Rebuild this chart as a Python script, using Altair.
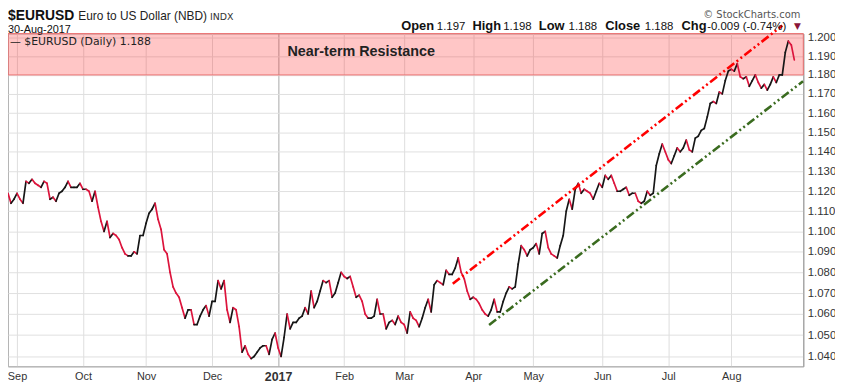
import json
import altair as alt
import pandas as pd

# ---------------- data (daily closes, trading days from 29-Aug-2016) ----------------
aug16 = [1.119, 1.114, 1.116]
sep16 = [1.119, 1.116, 1.114, 1.125, 1.124, 1.126, 1.124, 1.123, 1.122, 1.125,
         1.124, 1.116, 1.117, 1.115, 1.119, 1.120, 1.122, 1.125, 1.122, 1.122,
         1.122, 1.124]
oct16 = [1.121, 1.121, 1.120, 1.115, 1.120, 1.112, 1.105, 1.100, 1.105, 1.097,
         1.099, 1.098, 1.096, 1.092, 1.089, 1.088, 1.088, 1.090, 1.089, 1.098,
         1.098]
nov16 = [1.104, 1.109, 1.111, 1.114, 1.106, 1.101, 1.091, 1.089, 1.080, 1.073,
         1.070, 1.068, 1.063, 1.058, 1.062, 1.062, 1.055, 1.055, 1.059, 1.062,
         1.064, 1.059]
dec16 = [1.066, 1.066, 1.076, 1.072, 1.076, 1.062, 1.056, 1.063, 1.062, 1.054,
         1.042, 1.045, 1.041, 1.039, 1.040, 1.042, 1.044, 1.045, 1.045, 1.041,
         1.048, 1.051]
jan17 = [1.044, 1.040, 1.049, 1.060, 1.053, 1.056, 1.056, 1.058, 1.059, 1.063,
         1.060, 1.071, 1.063, 1.066, 1.071, 1.076, 1.075, 1.076, 1.068, 1.070,
         1.075, 1.080]
feb17 = [1.078, 1.077, 1.078, 1.073, 1.068, 1.069, 1.066, 1.060, 1.058, 1.058,
         1.059, 1.067, 1.060, 1.060, 1.053, 1.056, 1.057, 1.055, 1.059, 1.056]
mar17 = [1.055, 1.051, 1.061, 1.058, 1.057, 1.054, 1.058, 1.063, 1.067, 1.061,
         1.074, 1.076, 1.075, 1.074, 1.081, 1.079, 1.079, 1.082, 1.087, 1.080,
         1.077, 1.071, 1.067]
apr17 = [1.068, 1.067, 1.065, 1.062, 1.060, 1.059, 1.062, 1.067, 1.061, 1.061,
         1.066, 1.070, 1.073, 1.072, 1.073, 1.084, 1.093, 1.091, 1.088, 1.091]
may17 = [1.092, 1.094, 1.089, 1.099, 1.100, 1.092, 1.089, 1.088, 1.087, 1.093,
         1.098, 1.110, 1.116, 1.111, 1.121, 1.124, 1.119, 1.121, 1.120, 1.119,
         1.116, 1.120, 1.124]
jun17 = [1.122, 1.128, 1.126, 1.128, 1.124, 1.120, 1.120, 1.121, 1.122, 1.118,
         1.119, 1.119, 1.115, 1.114, 1.115, 1.120, 1.118, 1.119, 1.133, 1.139,
         1.144, 1.140]
jul17 = [1.136, 1.134, 1.138, 1.142, 1.140, 1.142, 1.146, 1.141, 1.140, 1.147,
         1.148, 1.151, 1.152, 1.158, 1.165, 1.166, 1.165, 1.171, 1.170, 1.177,
         1.182]
aug17 = [1.183, 1.182, 1.186, 1.179, 1.178, 1.179, 1.174, 1.177, 1.180, 1.176,
         1.173, 1.175, 1.172, 1.175, 1.179, 1.176, 1.180, 1.180, 1.192, 1.198,
         1.196, 1.188]

month_idx = [3, 25, 46, 68, 90, 112, 132, 155, 175, 198, 220, 241]
month_lab = ["Sep", "Oct", "Nov", "Dec", "2017", "Feb", "Mar", "Apr", "May",
             "Jun", "Jul", "Aug"]
y_ticks = [1.040, 1.050, 1.060, 1.070, 1.080, 1.090, 1.100, 1.110, 1.120,
           1.130, 1.140, 1.150, 1.160, 1.170, 1.180, 1.190, 1.200]

red_x = [148.2, 258.0]
red_y = [1.0745, 1.2064]
green_x = [160.3, 264.9]
green_y = [1.0548, 1.1767]

band_lo, band_hi = 1.180, 1.2021
x_domain = [0, 265]
y_domain = [1.0354, 1.2021]

quote_labels = ["Open", "High", "Low", "Close", "Chg"]
quote_values = ["1.197", "1.198", "1.188", "1.188", "-0.009 (-0.74%)"]
last_close = "1.188"

# ---------------- build ----------------
closes = (aug16 + sep16 + oct16 + nov16 + dec16 + jan17 + feb17 + mar17 +
          apr17 + may17 + jun17 + jul17 + aug17)
n = len(closes)
seg = pd.DataFrame({
    "i": list(range(n - 1)),
    "i2": list(range(1, n)),
    "v": closes[:-1],
    "v2": closes[1:],
})
seg["dir"] = ["up" if b >= a else "down" for a, b in zip(closes[:-1], closes[1:])]

xs = alt.Scale(domain=x_domain, nice=False, zero=False)
ys = alt.Scale(type="log", domain=y_domain, nice=False)

SANS = "Liberation Sans, Arial"
VERD = "DejaVu Sans, Verdana"

label_expr = "%s[indexof(%s, datum.value)]" % (json.dumps(month_lab), json.dumps(month_idx))
cond_2017 = "datum.value == 90"

xaxis = alt.Axis(
    values=month_idx, labelExpr=label_expr, title=None,
    grid=True,
    gridColor={"condition": {"test": cond_2017, "value": "#a8a8a8"}, "value": "#dedede"},
    ticks=False, domain=True, domainColor="#b0b0b0",
    labelFont=SANS, labelColor="#333333",
    labelFontSize={"condition": {"test": cond_2017, "value": 12.5}, "value": 11},
    labelFontWeight={"condition": {"test": cond_2017, "value": "bold"}, "value": "normal"},
    labelPadding=4, labelFlush=False, labelOverlap=False,
)
yaxis = alt.Axis(
    orient="right", values=y_ticks, format=".3f", title=None,
    grid=True, gridColor="#e0e0e0", ticks=False,
    domain=True, domainColor="#999999",
    labelFont=SANS, labelFontSize=11.5, labelColor="#333333",
    labelPadding=4, labelFlush=False, labelOverlap=False,
)


def X(field):
    return alt.X(field, scale=xs, axis=xaxis)


def Y(field):
    return alt.Y(field, scale=ys, axis=yaxis)


band = alt.Chart(pd.DataFrame({"i": [x_domain[0]], "i2": [x_domain[1]],
                               "v": [band_lo], "v2": [band_hi]})).mark_rect(
    fill="#ff1a1a", fillOpacity=0.25, stroke="#ec7272", strokeWidth=1
).encode(x=X("i:Q"), x2="i2:Q", y=Y("v:Q"), y2="v2:Q")

price = alt.Chart(seg).mark_rule(strokeWidth=1.7, strokeCap="round").encode(
    x=X("i:Q"), x2="i2:Q", y=Y("v:Q"), y2="v2:Q",
    color=alt.Color("dir:N", scale=alt.Scale(domain=["up", "down"],
                                             range=["#161616", "#dc143c"]),
                    legend=None),
)

dash = [9, 3, 2, 3, 2, 3]
red_line = alt.Chart(pd.DataFrame({"i": red_x, "v": red_y})).mark_line(
    color="#ff0000", strokeWidth=2.6, strokeDash=dash
).encode(x=X("i:Q"), y=Y("v:Q"))
green_line = alt.Chart(pd.DataFrame({"i": green_x, "v": green_y})).mark_line(
    color="#3a6b1f", strokeWidth=2.6, strokeDash=dash
).encode(x=X("i:Q"), y=Y("v:Q"))

resist = alt.Chart(pd.DataFrame({"i": [117.7], "v": [1.192], "t": ["Near-term Resistance"]})).mark_text(
    font=SANS, fontSize=14.5, fontWeight="bold", color="#222222",
    align="center", baseline="middle"
).encode(x=X("i:Q"), y=Y("v:Q"), text="t:N")

one = pd.DataFrame({"a": [0]})


def label(text, x, y, size, weight="normal", font=SANS, color="#111111", align="left"):
    return alt.Chart(one).mark_text(
        text=text, font=font, fontSize=size, fontWeight=weight, color=color,
        align=align, baseline="alphabetic"
    ).encode(x=alt.value(x), y=alt.value(y))


texts = [
    label("$EURUSD", 0, -13.5, 14, "bold", SANS),
    label("Euro to US Dollar (NBD)", 71, -13.5, 12, "normal", SANS, "#222222"),
    label("INDX", 204, -13.5, 9.5, "normal", VERD, "#333333"),
    label("30-Aug-2017", 0, -0.5, 11, "normal", SANS),
    label("\u00a9 StockCharts.com", 800, -15.5, 10, "normal", VERD, "#555555", "right"),
    label("\u2014 $EURUSD (Daily) " + last_close, 2, 12, 11, "normal", VERD, "#222222"),
]
lab_x = [397, 469, 536, 603, 680]
val_x = [433, 500, 566, 643, 706]
for k in range(len(quote_labels)):
    texts.append(label(quote_labels[k], lab_x[k], -3.5, 13, "bold", SANS))
    texts.append(label(quote_values[k], val_x[k], -3.5, 11.5, "normal", SANS))
texts.append(label("\u25bc", 797, -4.5, 9, "normal", VERD, "#8b1538", "center"))

chart = alt.layer(band, price, red_line, green_line, resist, *texts).properties(
    width=803, height=336,
    padding={"left": 0, "top": 24, "right": 32, "bottom": 15},
    autosize=alt.AutoSizeParams(type="none"),
    background="#ffffff",
).configure_view(stroke="#b4b4b4", strokeWidth=1)

chart.save("out.html", embed_options={"renderer": "svg", "actions": False})
